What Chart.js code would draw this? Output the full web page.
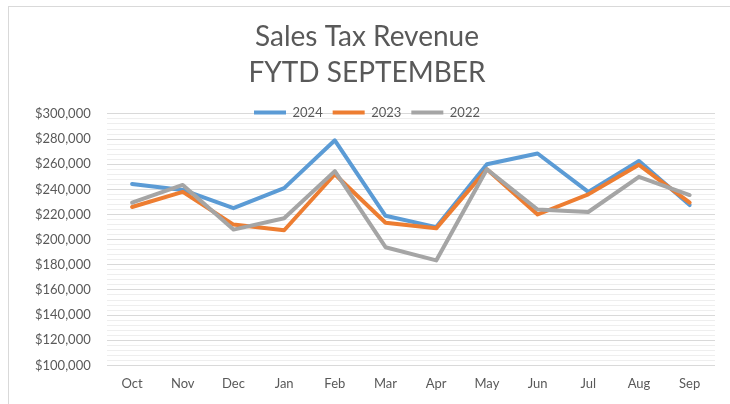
<!DOCTYPE html>
<html>
<head>
<meta charset="utf-8">
<script src="https://cdn.jsdelivr.net/npm/chart.js@4.4.1/dist/chart.umd.min.js"></script>
<style>
  html, body { margin: 0; padding: 0; background: #fff; overflow: hidden; }
  #wrap { position: relative; width: 730px; height: 404px; }
  #frame { position: absolute; left: 8px; top: 6px; width: 740px; height: 420px; border: 1px solid #d9d9d9; box-sizing: border-box; }
  #c { position: absolute; left: 0; top: 0; }
</style>
</head>
<body>
<div id="wrap">
  <div id="frame"></div>
  <canvas id="c" width="730" height="404"></canvas>
</div>
<script>
var months = ['Oct','Nov','Dec','Jan','Feb','Mar','Apr','May','Jun','Jul','Aug','Sep'];
var sales2024 = [244300, 239500, 225000, 241000, 279000, 219000, 210000, 260000, 268500, 238000, 262500, 227500];
var sales2023 = [226000, 238000, 212000, 207500, 252000, 213500, 209000, 256000, 220000, 236000, 259500, 229500];
var sales2022 = [229500, 243500, 208000, 217000, 254500, 194000, 183500, 256000, 224000, 222000, 250000, 235500];
var titleLines = ['Sales Tax Revenue', 'FYTD SEPTEMBER'];

var FONT = "Lato, 'Open Sans', sans-serif";
var TXT = '#595959';

// shrink legend box so it sits on top of the plot like Excel does
var legendOverlap = {
    id: 'legendOverlap',
    beforeInit: function(chart) {
        var lg = chart.legend;
        var fit = lg.fit;
        lg.fit = function() {
            fit.bind(lg)();
            this.height -= 15;
        };
        // no clipping, the items hang over the plot top
        lg.draw = function() { this._draw(); };
    }
};

function line(label, data, color, order) {
    return {
        label: label,
        data: data,
        borderColor: color,
        backgroundColor: color,
        borderWidth: 4,
        borderCapStyle: 'round',
        borderJoinStyle: 'round',
        pointRadius: 0,
        tension: 0,
        order: order
    };
}

new Chart(document.getElementById('c'), {
    type: 'line',
    data: {
        labels: months,
        datasets: [
            line('2024', sales2024, '#5B9BD5', 3),
            line('2023', sales2023, '#ED7D31', 2),
            line('2022', sales2022, '#A5A5A5', 1)
        ]
    },
    options: {
        responsive: false,
        animation: false,
        layout: { padding: { left: 19, right: 15, top: 18, bottom: 9 } },
        plugins: {
            tooltip: { enabled: false },
            title: {
                display: true,
                text: titleLines,
                color: TXT,
                font: { family: FONT, size: 28, weight: 'normal', lineHeight: 1.32 },
                padding: { top: 0, bottom: 4 }
            },
            legend: {
                display: true,
                position: 'top',
                labels: {
                    usePointStyle: true,
                    pointStyle: 'line',
                    pointStyleWidth: 32,
                    color: TXT,
                    font: { family: FONT, size: 13 },
                    padding: 10,
                    sort: function(a, b) { return a.datasetIndex - b.datasetIndex; }
                }
            }
        },
        scales: {
            x: {
                offset: true,
                grid: { display: false },
                border: { display: false },
                ticks: { color: TXT, font: { family: FONT, size: 13 }, padding: 3, maxRotation: 0, autoSkip: false }
            },
            y: {
                min: 100000,
                max: 300000,
                border: { display: false },
                grid: {
                    drawTicks: false,
                    lineWidth: 1,
                    color: function(ctx) {
                        return ctx.tick && ctx.tick.value % 20000 === 0 ? '#d9d9d9' : '#eeeeee';
                    }
                },
                ticks: {
                    stepSize: 4000,
                    autoSkip: false,
                    padding: 16,
                    color: TXT,
                    font: { family: FONT, size: 13 },
                    callback: function(v) {
                        if (v % 20000 !== 0) return '';
                        return '$' + v.toLocaleString('en-US');
                    }
                }
            }
        }
    },
    plugins: [legendOverlap]
});
</script>
</body>
</html>
